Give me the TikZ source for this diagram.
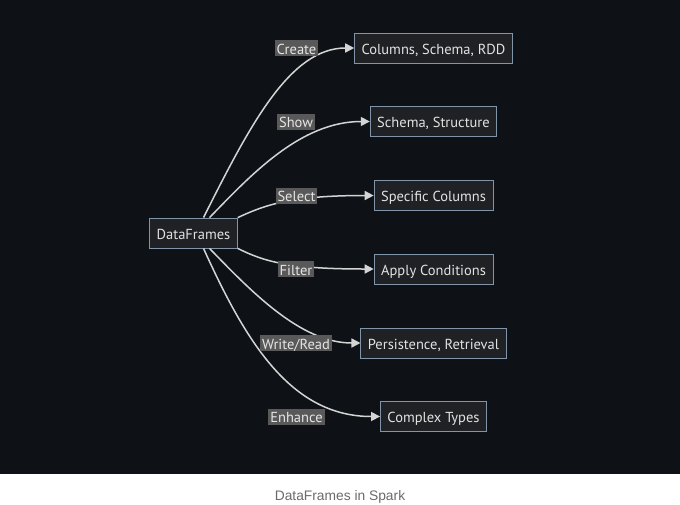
\documentclass[tikz,border=0pt]{standalone}
\usepackage{fontspec}
\setmainfont{Liberation Sans}
\newfontfamily\diagramfont{PT Sans}
\usetikzlibrary{arrows.meta}
\definecolor{canvas}{HTML}{0E1116}
\definecolor{boxfill}{HTML}{1F2124}
\definecolor{boxline}{HTML}{8294A8}
\definecolor{boxtext}{HTML}{E2E2E2}
\definecolor{labelfill}{HTML}{595959}
\definecolor{labeltext}{HTML}{E6E6E6}
\definecolor{edgeline}{HTML}{D4D4D4}
\definecolor{captiontext}{HTML}{6A6A6A}

\begin{document}
\begin{tikzpicture}[
    x=1pt, y={(0pt,-1pt)},
    % Base styles
    basebox/.style={font=\diagramfont\fontsize{14.5}{16}\selectfont, text height=13pt, text depth=1pt, align=center},
    % Rectangles for the diagram nodes
    nodebox/.style={basebox, rectangle, draw=boxline, fill=boxfill, text=boxtext,
        line width=0.8pt, inner xsep=7pt, inner ysep=0pt, minimum height=30pt},
    % Grey tags on the connectors
    edgelabel/.style={basebox, rectangle, fill=labelfill, text=labeltext,
        inner xsep=2pt, inner ysep=1pt},
    % Arrow style
    arrow/.style={-{Triangle[length=9pt, width=9pt]}, draw=edgeline, line width=1.5pt},
]

% Canvas: dark diagram area, white strip for the caption
\useasboundingbox (0,0) rectangle (680,504);
\fill[canvas] (0,0) rectangle (680,474);

% Source node
\node[nodebox] (dataframes) at (193.5,233) {DataFrames};

% Targets, one per row
\node[nodebox] (columns) at (433.5,48) {Columns, Schema, RDD};
\node[nodebox] (schema) at (433.5,121.5) {Schema, Structure};
\node[nodebox] (specific) at (433.5,195.5) {Specific Columns};
\node[nodebox] (conditions) at (433.5,269) {Apply Conditions};
\node[nodebox] (persistence) at (433.5,343) {Persistence, Retrieval};
\node[nodebox] (complex) at (433.5,416.5) {Complex Types};

% Connectors fanning out of DataFrames
\draw[arrow] ([xshift=10pt]dataframes.north) .. controls (250,125) and (290,48) .. (columns.west);
\draw[arrow] ([xshift=16pt]dataframes.north) .. controls (250,176) and (300,121.5) .. (schema.west);
\draw[arrow] (dataframes.north east) .. controls (265,205) and (290,195.5) .. (specific.west);
\draw[arrow] (dataframes.south east) .. controls (265,262) and (290,269) .. (conditions.west);
\draw[arrow] ([xshift=16pt]dataframes.south) .. controls (250,290) and (300,343) .. (persistence.west);
\draw[arrow] ([xshift=10pt]dataframes.south) .. controls (245,340) and (290,416.5) .. (complex.west);

% Tags sit on top of the connectors
\node[edgelabel] (create) at (296.5,48) {Create};
\node[edgelabel] (show) at (296,121.5) {Show};
\node[edgelabel] (select) at (296.5,195.5) {Select};
\node[edgelabel] (filter) at (296,269) {Filter};
\node[edgelabel] (writeread) at (296,343) {Write/Read};
\node[edgelabel] (enhance) at (296.5,416.5) {Enhance};

% Caption under the diagram
\node[font=\fontsize{13.8}{16}\selectfont, text height=13pt, text depth=1pt, text=captiontext]
    (caption) at (340,494.5) {DataFrames in Spark};

\end{tikzpicture}
\end{document}
